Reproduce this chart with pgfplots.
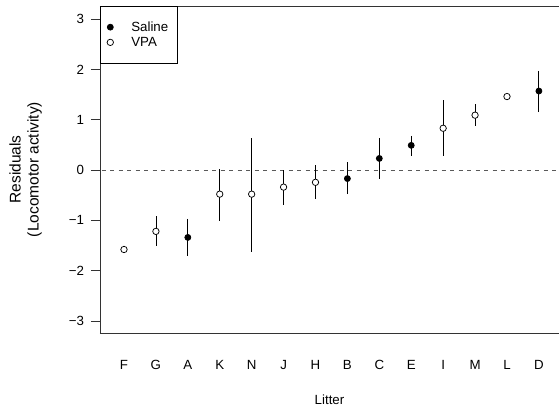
\documentclass[border=0pt]{standalone}
\usepackage{fontspec}
\setmainfont{Liberation Sans}
\usepackage{pgfplots}
\pgfplotsset{compat=1.18}

% x = position of the litter, y = residual, ep/em = upper/lower bar
\pgfplotstableread{
x  y      ep    em
3  -1.34  0.37  0.36
8  -0.17  0.32  0.31
9   0.23  0.41  0.40
10  0.49  0.19  0.21
14  1.57  0.40  0.42
}\saline
\pgfplotstableread{
x  y      ep    em
1  -1.58  0.00  0.00
2  -1.22  0.31  0.30
4  -0.48  0.50  0.53
5  -0.48  1.12  1.14
6  -0.34  0.34  0.36
7  -0.245 0.335 0.325
11  0.83  0.56  0.56
12  1.09  0.22  0.21
13  1.46  0.00  0.00
}\vpa

\begin{document}
\begin{tikzpicture}[font=\fontsize{13.3}{16}\selectfont]
\begin{axis}[
    name=ax,
    scale only axis,
    width=459pt, height=327pt,
    xmin=0.248, xmax=14.63,
    ymin=-3.24, ymax=3.26,
    axis x line*=box, axis y line*=left,
    axis line style={black!80, line width=0.8pt},
    xtick={1,...,14},
    xticklabels={F,G,A,K,N,J,H,B,C,E,I,M,L,D},
    xtick style={draw=none},
    xticklabel style={yshift=-14.5pt},
    ytick={-3,...,3},
    yticklabels={−3,−2,−1,0,1,2,3},
    ytick style={black!80, line width=0.8pt},
    yticklabel style={xshift=-3.5pt},
    tick align=outside,
    major tick length=9pt,
    xlabel={Litter},
    xlabel style={at={(axis description cs:0.5,-0.204)}, anchor=center},
    ylabel={Residuals\\(Locomotor activity)},
    ylabel style={at={(axis description cs:-0.162,0.5)}, anchor=center,
        align=center, font=\fontsize{15.5}{18}\selectfont},
    legend style={at={(0,1)}, anchor=north west, draw=black, line width=0.6pt,
        inner xsep=3pt, inner ysep=13.3pt, row sep=0.3pt, column sep=5pt,
        nodes={inner sep=2pt}},
    legend cell align=left,
    legend image code/.code={%
        \path[draw=none, fill=none] (0pt,-3pt) rectangle (21pt,3pt);
        \draw[#1] plot coordinates {(7pt,0pt)};},
]
\addplot[black!65, line width=0.8pt, dash pattern=on 4pt off 4.5pt, forget plot]
    coordinates {(0.3,0) (14.63,0)};
\addplot[only marks, mark=*, mark size=3pt, black, fill=black, line width=0.75pt,
    error bars/.cd, y dir=both, y explicit, error mark=none,
    error bar style={line width=0.8pt, black}]
    table[x=x, y=y, y error plus=ep, y error minus=em] {\saline};
\addlegendentry{Saline\hspace*{4pt}}
\addplot[only marks, mark=*, mark size=3.2pt, mark options={fill=white, draw=black},
    line width=0.75pt,
    error bars/.cd, y dir=both, y explicit, error mark=none,
    error bar style={line width=0.8pt, black}]
    table[x=x, y=y, y error plus=ep, y error minus=em] {\vpa};
\addlegendentry{VPA}
\end{axis}
\pgfresetboundingbox
\path[use as bounding box] (ax.south west) ++(-100pt,-74pt) rectangle ++(559pt,407pt);
\end{tikzpicture}
\end{document}
